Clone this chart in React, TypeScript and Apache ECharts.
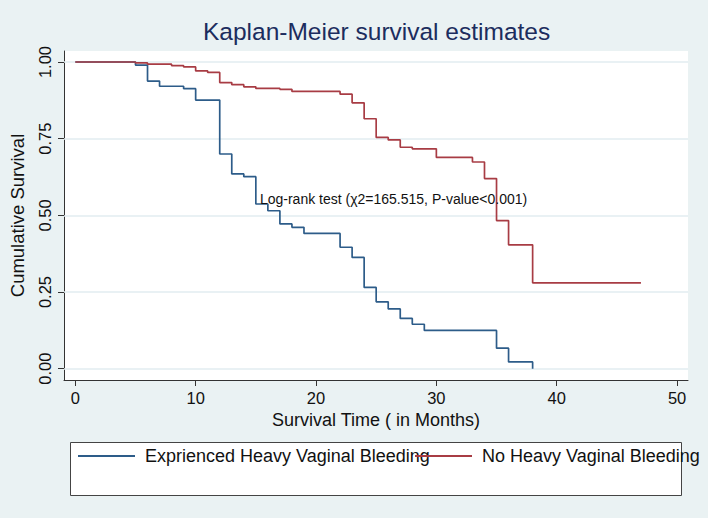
import React, { useEffect, useRef } from "react";
import * as echarts from "echarts";

const seriesNames = ["Exprienced Heavy Vaginal Bleeding", "No Heavy Vaginal Bleeding"];

// Kaplan-Meier step points: [month, cumulative survival]
const bleedingSurvival: [number, number][] = [
  [0, 1], [5, 0.99], [6, 0.938], [7, 0.921], [9, 0.913], [10, 0.876], [12, 0.7],
  [13, 0.635], [14, 0.626], [15, 0.537], [16, 0.515], [17, 0.472], [18, 0.461],
  [19, 0.441], [22, 0.396], [23, 0.363], [24, 0.265], [25, 0.218], [26, 0.195],
  [27, 0.164], [28, 0.145], [29, 0.125], [35, 0.067], [36, 0.022], [38, 0],
];

const noBleedingSurvival: [number, number][] = [
  [0, 1], [5, 0.997], [6, 0.993], [8, 0.988], [9, 0.984], [10, 0.971], [11, 0.966],
  [12, 0.933], [13, 0.926], [14, 0.919], [15, 0.914], [17, 0.911], [18, 0.904],
  [22, 0.895], [23, 0.867], [24, 0.815], [25, 0.754], [26, 0.746], [27, 0.722],
  [28, 0.717], [30, 0.689], [33, 0.674], [34, 0.62], [35, 0.483], [36, 0.404],
  [38, 0.28], [47, 0.28],
];

const xTicks = [0, 10, 20, 30, 40, 50];
const yTicks = [0, 0.25, 0.5, 0.75, 1];

const annotation = "Log-rank test (\u03C72=165.515, P-value<0.001)";
const annotationAt: [number, number] = [15.34, 0.553];

const FONT = "'Liberation Sans', Arial, Helvetica, sans-serif";
const BLUE = "#2d5c89";
const RED = "#a83c44";
const BG = "#eaf2f3";

export default function App() {
  const ref = useRef<HTMLDivElement>(null);

  useEffect(() => {
    if (!ref.current) return;
    const chart = echarts.init(ref.current, null, { renderer: "svg" });
    const legendBase = {
      top: 447,
      padding: 0,
      icon: "rect",
      itemWidth: 57,
      itemHeight: 2,
      textStyle: { fontFamily: FONT, fontSize: 18, color: "#111", padding: [0, 0, 0, 5] },
      z: 10,
    };
    const option: any = {
      animation: false,
      backgroundColor: BG,
      textStyle: { fontFamily: FONT },
      title: {
        text: "Kaplan-Meier survival estimates",
        left: 203,
        top: 19,
        padding: 0,
        textStyle: { fontFamily: FONT, fontSize: 24.5, fontWeight: "normal", color: "#1c2d5e" },
      },
      grid: {
        left: 64,
        right: 20,
        top: 51,
        bottom: 138,
        show: true,
        backgroundColor: "#ffffff",
        borderWidth: 0,
      },
      xAxis: {
        type: "value",
        min: -0.94,
        max: 50.91,
        name: "Survival Time ( in Months)",
        nameLocation: "middle",
        nameGap: 28,
        nameTextStyle: { fontFamily: FONT, fontSize: 18, color: "#111" },
        axisLine: { onZero: false, lineStyle: { color: "#333", width: 1 } },
        axisTick: { show: true, length: 6, customValues: xTicks, lineStyle: { color: "#333" } },
        axisLabel: { customValues: xTicks, fontSize: 16.5, color: "#111", margin: 9, fontFamily: FONT },
        splitLine: { show: false },
      },
      yAxis: {
        type: "value",
        min: -0.0368,
        max: 1.0359,
        name: "Cumulative Survival",
        nameLocation: "middle",
        nameGap: 37,
        nameRotate: 90,
        nameTextStyle: { fontFamily: FONT, fontSize: 18.5, color: "#111" },
        axisLine: { show: true, onZero: false, lineStyle: { color: "#333", width: 1 } },
        axisTick: { show: true, length: 6, customValues: yTicks, lineStyle: { color: "#333" } },
        axisLabel: {
          customValues: yTicks,
          rotate: 90,
          fontSize: 16.5,
          color: "#111",
          margin: 11,
          fontFamily: FONT,
          formatter: (v: number) => v.toFixed(2),
        },
        splitLine: { show: false },
      },
      legend: [
        { ...legendBase, data: [seriesNames[0]], left: 78 },
        { ...legendBase, data: [seriesNames[1]], left: 415 },
      ],
      series: [
        {
          name: seriesNames[0],
          type: "line",
          step: "end",
          data: bleedingSurvival,
          showSymbol: false,
          symbol: "none",
          lineStyle: { color: BLUE, width: 1.7 },
          itemStyle: { color: BLUE },
          z: 2,
          markLine: {
            silent: true,
            symbol: "none",
            label: { show: false },
            lineStyle: { color: "#e2edf0", width: 1.5, type: "solid" },
            data: yTicks.map((v) => ({ yAxis: v })),
            z: 1,
          },
        },
        {
          name: seriesNames[1],
          type: "line",
          step: "end",
          data: noBleedingSurvival,
          showSymbol: false,
          symbol: "none",
          lineStyle: { color: RED, width: 1.7 },
          itemStyle: { color: RED },
          z: 3,
        },
      ],
    };
    chart.setOption(option);
    const p = chart.convertToPixel({ xAxisIndex: 0, yAxisIndex: 0 }, annotationAt) as number[];
    chart.setOption({
      graphic: [
        {
          type: "rect",
          shape: { x: 70.5, y: 442.5, width: 611, height: 53 },
          style: { fill: "#ffffff", stroke: "#444", lineWidth: 1 },
          z: 0,
          silent: true,
        },
        {
          type: "text",
          x: p[0],
          y: p[1],
          style: {
            text: annotation,
            fontFamily: FONT,
            fontSize: 14,
            fill: "#111",
            textAlign: "left",
            textVerticalAlign: "middle",
          },
          z: 20,
        },
      ],
    });
    return () => chart.dispose();
  }, []);

  return (
    <div
      ref={ref}
      style={{ position: "fixed", left: 0, top: 0, width: 708, height: 518 }}
    />
  );
}
